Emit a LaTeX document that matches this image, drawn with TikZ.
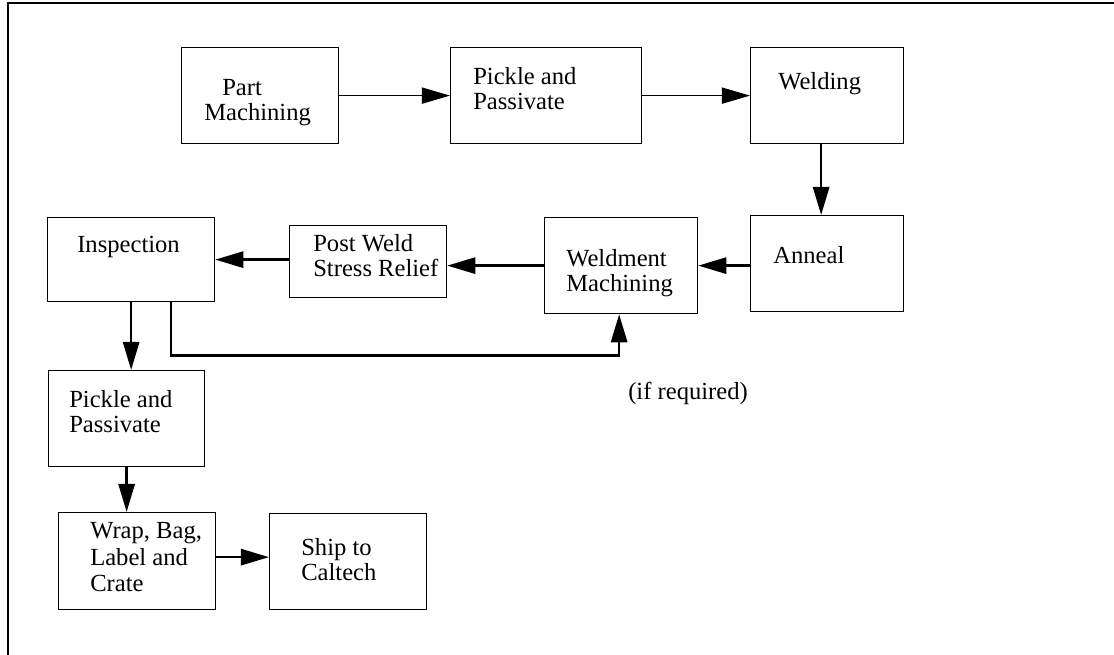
\documentclass[tikz,border=0pt]{standalone}
\usepackage{fontspec}
\setmainfont{Liberation Serif}
\usepackage{tikz}
\usetikzlibrary{arrows.meta,positioning}
\newdimen\pxu \pxu=0.025cm

\begin{document}
\begin{tikzpicture}[
  x=0.025cm, y=-0.025cm,
  every node/.style={font=\fontsize{17.5}{17.8}\selectfont},
  box/.style={draw, line width=0.9pt, rectangle, anchor=north west, inner sep=0pt,
    minimum width=157\pxu, minimum height=96\pxu},
  lab/.style={inner sep=0pt, align=left},
  thin arr/.style={-{Triangle[length=20pt,width=11.5pt]}, line width=0.9pt},
  thick arr/.style={-{Triangle[length=20pt,width=11.5pt]}, line width=1.8pt}
]
\useasboundingbox (0,0) rectangle (1114,655);
\draw[line width=0.9pt] (8,655) -- (8,3) -- (1114,3);

\node[box] (pm) at (181,47) {};
\node[box, minimum width=191\pxu] (pp) at (450,47) {};
\node[box, minimum width=153\pxu] (weld) at (750,47) {};
\node[box, minimum width=153\pxu] (ann) at (750,215) {};
\node[box, minimum width=153\pxu] (wm) at (544,217) {};
\node[box, minimum height=72\pxu] (pwsr) at (289,225) {};
\node[box, minimum width=167\pxu, minimum height=84\pxu] (insp) at (47,217) {};
\node[box, minimum width=156\pxu] (pp2) at (48,370) {};
\node[box, minimum height=97\pxu] (wrap) at (58,512) {};
\node[box] (ship) at (269,513) {};

\node[lab, below right=32\pxu and 23\pxu of pm.north west] {\hspace*{18\pxu}Part\\Machining};
\node[lab, below right=20\pxu and 23\pxu of pp.north west] {Pickle and\\Passivate};
\node[lab, below right=25\pxu and 28\pxu of weld.north west] {Welding};
\node[lab, below right=31\pxu and 23\pxu of ann.north west] {Anneal};
\node[lab, below right=32\pxu and 22\pxu of wm.north west] {Weldment\\Machining};
\node[lab, below right=9\pxu and 24\pxu of pwsr.north west] {Post Weld\\Stress Relief};
\node[lab, below right=19\pxu and 30\pxu of insp.north west] {Inspection};
\node[lab, below right=20\pxu and 21\pxu of pp2.north west] {Pickle and\\Passivate};
\node[lab, below right=10\pxu and 32\pxu of wrap.north west,
  font=\fontsize{17.5}{19}\selectfont] {Wrap, Bag,\\Label and\\Crate};
\node[lab, below right=25\pxu and 32\pxu of ship.north west] {Ship to\\Caltech};
\node[lab, anchor=north west] (ifreq) at (628,382) {(if required)};

\draw[thin arr] (pm) -- (pp);
\draw[thin arr] (pp) -- (weld);
\draw[thick arr] ([shift={(-6,0)}]weld.south) -- ([shift={(-6,0)}]ann.north);
\draw[thick arr] (ann.west |- wm.east) -- (wm.east);
\draw[thick arr] (wm.west) -- (pwsr.east |- wm.west);
\draw[thick arr] (pwsr.west |- insp.east) -- (insp.east);
\draw[thick arr] (insp.south) -- (insp.south |- pp2.north);
\draw[thick arr] (pp2.south) -- (pp2.south |- wrap.north);
\draw[thick arr] ([shift={(0,-4)}]wrap.east) -- ([shift={(0,-4)}]wrap.east -| ship.west);
\draw[thick arr] ([shift={(40,0)}]insp.south) -- ++(0,53) -| ([shift={(-2,0)}]wm.south);
\end{tikzpicture}
\end{document}
